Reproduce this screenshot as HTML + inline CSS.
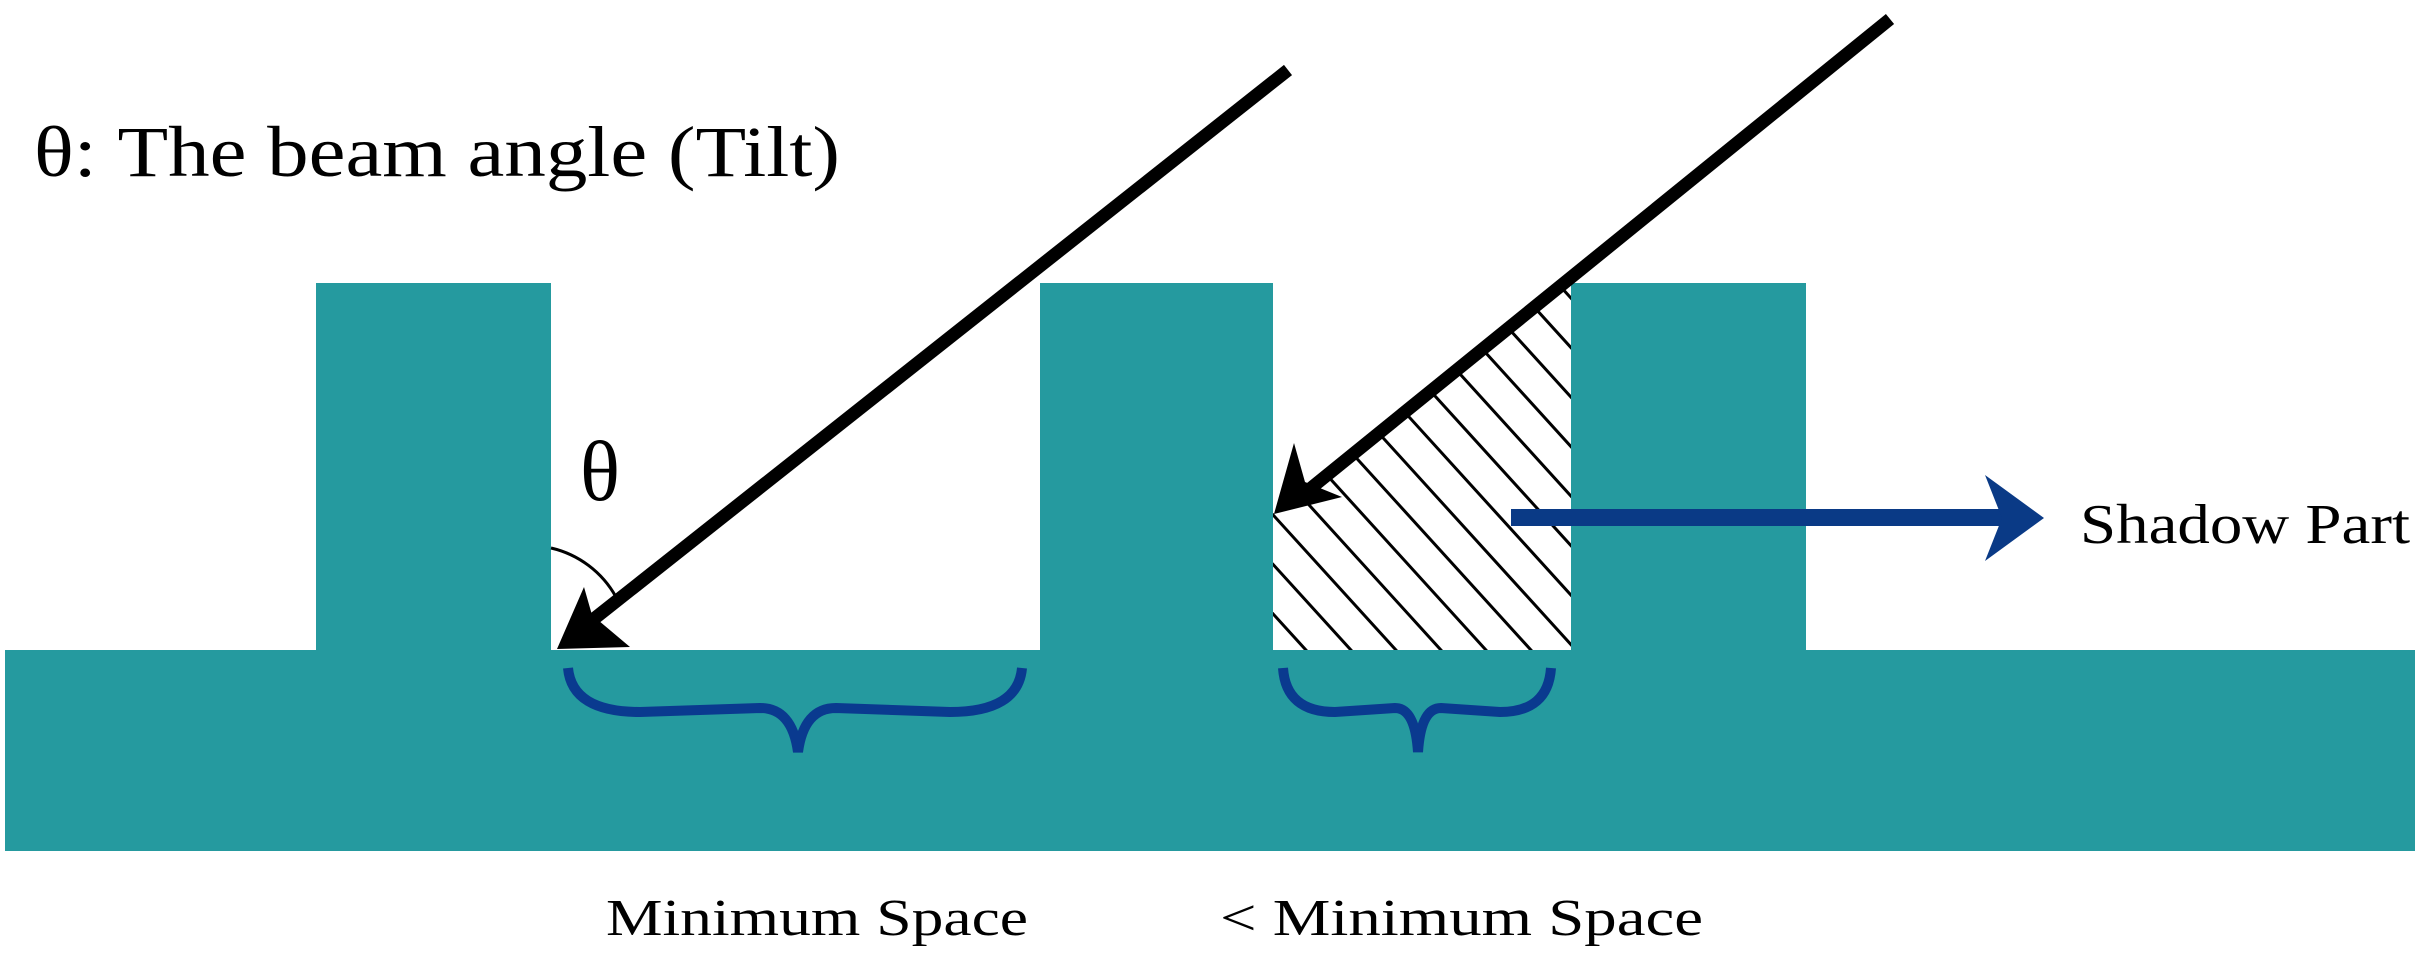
<!DOCTYPE html>
<html><head><meta charset="utf-8"><style>html,body{margin:0;padding:0;background:#fff}svg{display:block}</style></head>
<body>
<svg width="2433" height="963" viewBox="0 0 2433 963" xmlns="http://www.w3.org/2000/svg" font-family="Liberation Serif, serif">
<defs>
<clipPath id="sh"><polygon points="1273,512 1571,279 1571,650 1273,650"/></clipPath>
</defs>
<rect x="5" y="650" width="2410" height="201" fill="#259a9f"/>
<rect x="316" y="283" width="235" height="369" fill="#259a9f"/>
<rect x="1040" y="283" width="233" height="369" fill="#259a9f"/>
<rect x="1571" y="283" width="235" height="369" fill="#259a9f"/>
<g clip-path="url(#sh)" stroke="#000" stroke-width="3">
<g id="h">
<line x1="940" y1="0" x2="1540" y2="660"/>
</g>
<use href="#h" x="45"/><use href="#h" x="90"/><use href="#h" x="135"/><use href="#h" x="180"/><use href="#h" x="225"/><use href="#h" x="270"/><use href="#h" x="315"/><use href="#h" x="360"/><use href="#h" x="405"/><use href="#h" x="450"/><use href="#h" x="495"/><use href="#h" x="540"/><use href="#h" x="585"/><use href="#h" x="630"/><use href="#h" x="675"/>
<use href="#h" x="-45"/><use href="#h" x="-90"/><use href="#h" x="-135"/><use href="#h" x="-180"/><use href="#h" x="-225"/>
</g>
<!-- beam arrows -->
<line x1="1288" y1="70" x2="590" y2="622" stroke="#000" stroke-width="13"/>
<polygon points="557,649 584,587 592,615 630,647" fill="#000"/>
<line x1="1890" y1="19" x2="1300" y2="497" stroke="#000" stroke-width="13"/>
<polygon points="1274,514 1294,443 1305,482 1342,497" fill="#000"/>
<!-- angle arc -->
<path d="M551,548 A100,100 0 0 1 616,597" fill="none" stroke="#000" stroke-width="3"/>
<text x="580" y="500" font-size="86" textLength="40" lengthAdjust="spacingAndGlyphs">θ</text>
<!-- shadow arrow -->
<rect x="1511" y="509" width="500" height="17" fill="#0a3a86"/>
<polygon points="1985,475 2044,518 1985,561 2002,518" fill="#0a3a86"/>
<text x="2080" y="543" font-size="56" textLength="330" lengthAdjust="spacingAndGlyphs">Shadow Part</text>
<!-- braces -->
<path d="M568,668 Q572,712 640,712 L760,708 Q792,708 798,752 Q804,708 836,708 L950,712 Q1018,712 1022,668" fill="none" stroke="#0a3a8f" stroke-width="10"/>
<path d="M1283,668 Q1286,712 1335,712 L1395,708 Q1415,708 1418,752 Q1421,708 1441,708 L1500,712 Q1548,712 1551,668" fill="none" stroke="#0a3a8f" stroke-width="10"/>
<!-- labels -->
<text x="34" y="176" font-size="72" textLength="806" lengthAdjust="spacingAndGlyphs">θ: The beam angle (Tilt)</text>
<text x="606" y="935" font-size="52" textLength="422" lengthAdjust="spacingAndGlyphs">Minimum Space</text>
<text x="1220" y="935" font-size="52" textLength="483" lengthAdjust="spacingAndGlyphs">&lt; Minimum Space</text>
</svg>
</body></html>
